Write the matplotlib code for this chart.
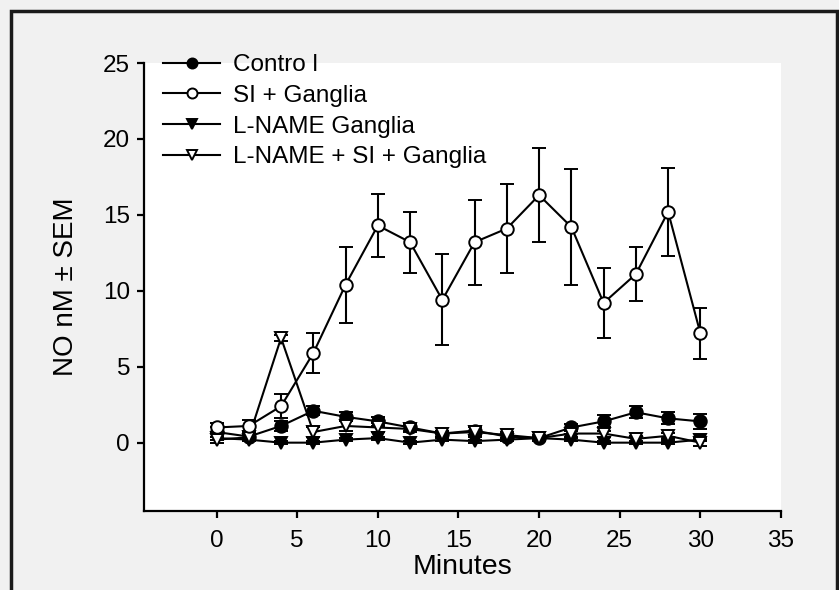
import matplotlib
matplotlib.use("Agg")
import matplotlib.pyplot as plt
from matplotlib.patches import Rectangle

plt.rcParams['font.family'] = ['Liberation Sans', 'DejaVu Sans']

minutes = [0, 2, 4, 6, 8, 10, 12, 14, 16, 18, 20, 22, 24, 26, 28, 30]

control = [0.7, 0.4, 1.1, 2.1, 1.7, 1.4, 1.0, 0.6, 0.8, 0.4, 0.3, 1.0, 1.4, 2.0, 1.6, 1.4]
control_err = [0.3, 0.2, 0.3, 0.3, 0.3, 0.3, 0.2, 0.2, 0.3, 0.2, 0.2, 0.2, 0.4, 0.4, 0.4, 0.5]

si_ganglia = [1.0, 1.1, 2.4, 5.9, 10.4, 14.3, 13.2, 9.4, 13.2, 14.1, 16.3, 14.2, 9.2, 11.1, 15.2, 7.2]
si_ganglia_err = [0.3, 0.4, 0.8, 1.3, 2.5, 2.1, 2.0, 3.0, 2.8, 2.9, 3.1, 3.8, 2.3, 1.8, 2.9, 1.7]

lname_ganglia = [0.3, 0.2, 0.0, 0.0, 0.2, 0.3, 0.0, 0.2, 0.1, 0.2, 0.3, 0.2, 0.0, 0.0, 0.0, 0.2]
lname_ganglia_err = [0.1, 0.1, 0.1, 0.1, 0.1, 0.1, 0.1, 0.1, 0.1, 0.1, 0.1, 0.1, 0.1, 0.1, 0.1, 0.1]

lname_si_ganglia = [0.2, 0.35, 6.9, 0.7, 1.1, 1.0, 0.9, 0.6, 0.7, 0.5, 0.3, 0.6, 0.6, 0.25, 0.45, 0.0]
lname_si_ganglia_err = [0.2, 0.2, 0.2, 0.3, 0.3, 0.3, 0.2, 0.2, 0.3, 0.2, 0.1, 0.2, 0.2, 0.2, 0.2, 0.2]

labels = ["Contro l", "SI + Ganglia", "L-NAME Ganglia", "L-NAME + SI + Ganglia"]
x_ticks = [0, 5, 10, 15, 20, 25, 30, 35]
y_ticks = [0, 5, 10, 15, 20, 25]

fig = plt.figure(figsize=(8.39, 5.90), dpi=100, facecolor='#f1f1f1')
ax = fig.add_axes([144/839, 1 - 511/590, (781 - 144)/839, (511 - 63)/590])
ax.set_facecolor('white')

series = [
    (control, control_err, 'o', 'black', 3),
    (si_ganglia, si_ganglia_err, 'o', 'white', 6),
    (lname_ganglia, lname_ganglia_err, 'v', 'black', 4),
    (lname_si_ganglia, lname_si_ganglia_err, 'v', 'white', 5),
]
handles = []
for (vals, err, mk, fc, z), lab in zip(series, labels):
    cont = ax.errorbar(minutes, vals, yerr=err, marker=mk, markersize=9,
                       markerfacecolor=fc, markeredgecolor='black', markeredgewidth=1.4,
                       color='black', linewidth=1.5, elinewidth=1.5, capsize=5,
                       capthick=1.5, label=lab, zorder=z)
    handles.append(cont[0])

ax.set_xlim(-4.5, 35)
ax.set_ylim(-4.5, 25)
ax.set_xticks(x_ticks)
ax.set_yticks(y_ticks)
for s in ['top', 'right']:
    ax.spines[s].set_visible(False)
for s in ['left', 'bottom']:
    ax.spines[s].set_linewidth(1.6)
ax.tick_params(direction='out', length=5, width=1.6, labelsize=17.5, colors='black')
ax.tick_params(axis='x', pad=9)
ax.tick_params(axis='y', pad=5)
ax.set_xlabel("Minutes", fontsize=20.5, labelpad=1)
ax.set_ylabel("NO nM \u00b1 SEM", fontsize=20, labelpad=17)

leg = ax.legend(handles, labels, loc='upper left', bbox_to_anchor=(19/637, 1 + 9/448),
                frameon=False, fontsize=17.5, handlelength=2.35, handletextpad=0.55,
                labelspacing=0.36, borderpad=0, borderaxespad=0, markerscale=0.8)

fig.patches.append(Rectangle((11/839, -0.05), (837 - 11)/839, 1.05 - 11/590,
                             transform=fig.transFigure, fill=False, edgecolor='#1a1a1a',
                             linewidth=2.5, zorder=10))

fig.savefig("out.png", dpi=100, facecolor=fig.get_facecolor())
